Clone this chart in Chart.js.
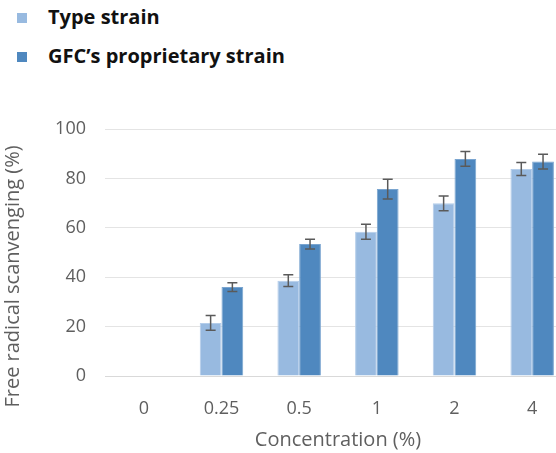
<!DOCTYPE html>
<html>
<head>
<meta charset="utf-8">
<script src="https://cdn.jsdelivr.net/npm/chart.js@4.4.1/dist/chart.umd.min.js"></script>
<style>
  html, body { margin: 0; padding: 0; background: #fff; overflow: hidden; }
  body { width: 556px; height: 453px; position: relative; }
  #legend { position: absolute; left: 17px; top: 0px; font-family: "Open Sans", sans-serif; font-weight: bold; font-size: 20px; color: #111; }
  .item { position: relative; height: 39px; line-height: 34px; }
  .sw { position: absolute; left: 0; top: 13px; width: 10px; height: 10px; }
  .lbl { position: absolute; left: 31px; top: 0; white-space: nowrap; }
  #wrap { position: absolute; left: 0; top: 0; width: 580px; height: 453px; }
</style>
</head>
<body>
<div id="legend"></div>
<div id="wrap"><canvas id="c" width="580" height="453"></canvas></div>
<script>
const concentrations = ['0', '0.25', '0.5', '1', '2', '4'];
const typeStrain = [0, 21.5, 38.6, 58.4, 69.9, 83.8];
const typeStrainErr = [0, 3, 2.4, 3, 3, 2.6];
const gfcStrain = [0, 36, 53.4, 75.7, 87.9, 86.8];
const gfcStrainErr = [0, 1.8, 2, 4, 3, 3];
const yTicks = [0, 20, 40, 60, 80, 100];

const seriesNames = ['Type strain', 'GFC\u2019s proprietary strain'];
const yTitle = 'Free radical scanvenging (%)';
const lightBlue = '#98bae0';
const darkBlue = '#4f88bf';

// legend stacked vertically above the plot
const legendEl = document.getElementById('legend');
[[seriesNames[0], lightBlue], [seriesNames[1], darkBlue]].forEach(([name, col]) => {
  const item = document.createElement('div');
  item.className = 'item';
  item.innerHTML = '<span class="sw" style="background:' + col + '"></span><span class="lbl">' + name + '</span>';
  legendEl.appendChild(item);
});

const gray = '#5f5f5f';
const fontFam = '"Open Sans", sans-serif';

// draws ± error whiskers from the dataset's err array
const errorBars = {
  id: 'errorBars',
  afterDatasetsDraw(chart) {
    const ctx = chart.ctx;
    const y = chart.scales.y;
    chart.data.datasets.forEach((ds, i) => {
      const meta = chart.getDatasetMeta(i);
      meta.data.forEach((bar, j) => {
        const v = ds.data[j], e = ds.err[j];
        if (!v) return;
        const top = y.getPixelForValue(v + e);
        const bot = y.getPixelForValue(v - e);
        const x = bar.x;
        ctx.save();
        ctx.strokeStyle = '#5a5a5a';
        ctx.lineWidth = 1.5;
        ctx.beginPath();
        ctx.moveTo(x, top); ctx.lineTo(x, bot);
        ctx.moveTo(x - 5, top); ctx.lineTo(x + 5, top);
        ctx.moveTo(x - 5, bot); ctx.lineTo(x + 5, bot);
        ctx.stroke();
        ctx.restore();
      });
    });
  }
};

// rotated value-axis caption, set a little below the plot's middle
const sideTitle = {
  id: 'sideTitle',
  afterDraw(chart) {
    const ctx = chart.ctx;
    const a = chart.chartArea;
    ctx.save();
    ctx.translate(13, (a.top + a.bottom) / 2 + 24);
    ctx.rotate(-Math.PI / 2);
    ctx.fillStyle = gray;
    ctx.font = '20px ' + fontFam;
    ctx.textAlign = 'center';
    ctx.textBaseline = 'middle';
    ctx.fillText(yTitle, 0, 0);
    ctx.restore();
  }
};

new Chart(document.getElementById('c'), {
  type: 'bar',
  data: {
    labels: concentrations,
    datasets: [
      { label: seriesNames[0], data: typeStrain, err: typeStrainErr, backgroundColor: lightBlue, borderColor: '#b4cdea', borderWidth: 1 },
      { label: seriesNames[1], data: gfcStrain, err: gfcStrainErr, backgroundColor: darkBlue, borderColor: '#7aa5d0', borderWidth: 1 }
    ]
  },
  options: {
    responsive: false,
    animation: false,
    events: [],
    layout: { padding: { top: 129, right: 9, left: 0, bottom: 0 } },
    datasets: { bar: { categoryPercentage: 0.56, barPercentage: 1 } },
    plugins: { legend: { display: false }, tooltip: { enabled: false } },
    scales: {
      x: {
        grid: { display: false },
        border: { display: true, color: '#d9d9d9' },
        ticks: { color: gray, font: { family: fontFam, size: 18 }, padding: 14 },
        title: { display: true, text: 'Concentration (%)', color: gray, font: { family: fontFam, size: 20 }, padding: { top: 0, bottom: 1 } },
        afterFit(scale) { scale.height = 77; }
      },
      y: {
        min: 0, max: 100,
        afterBuildTicks(scale) { scale.ticks = yTicks.map(v => ({ value: v })); },
        grid: { color: '#e4e4e4', drawTicks: false },
        border: { display: false },
        ticks: { color: gray, font: { family: fontFam, size: 18 }, padding: 19 },
        title: { display: false },
        afterFit(scale) { scale.width = 105; }
      }
    }
  },
  plugins: [errorBars, sideTitle]
});
</script>
</body>
</html>
